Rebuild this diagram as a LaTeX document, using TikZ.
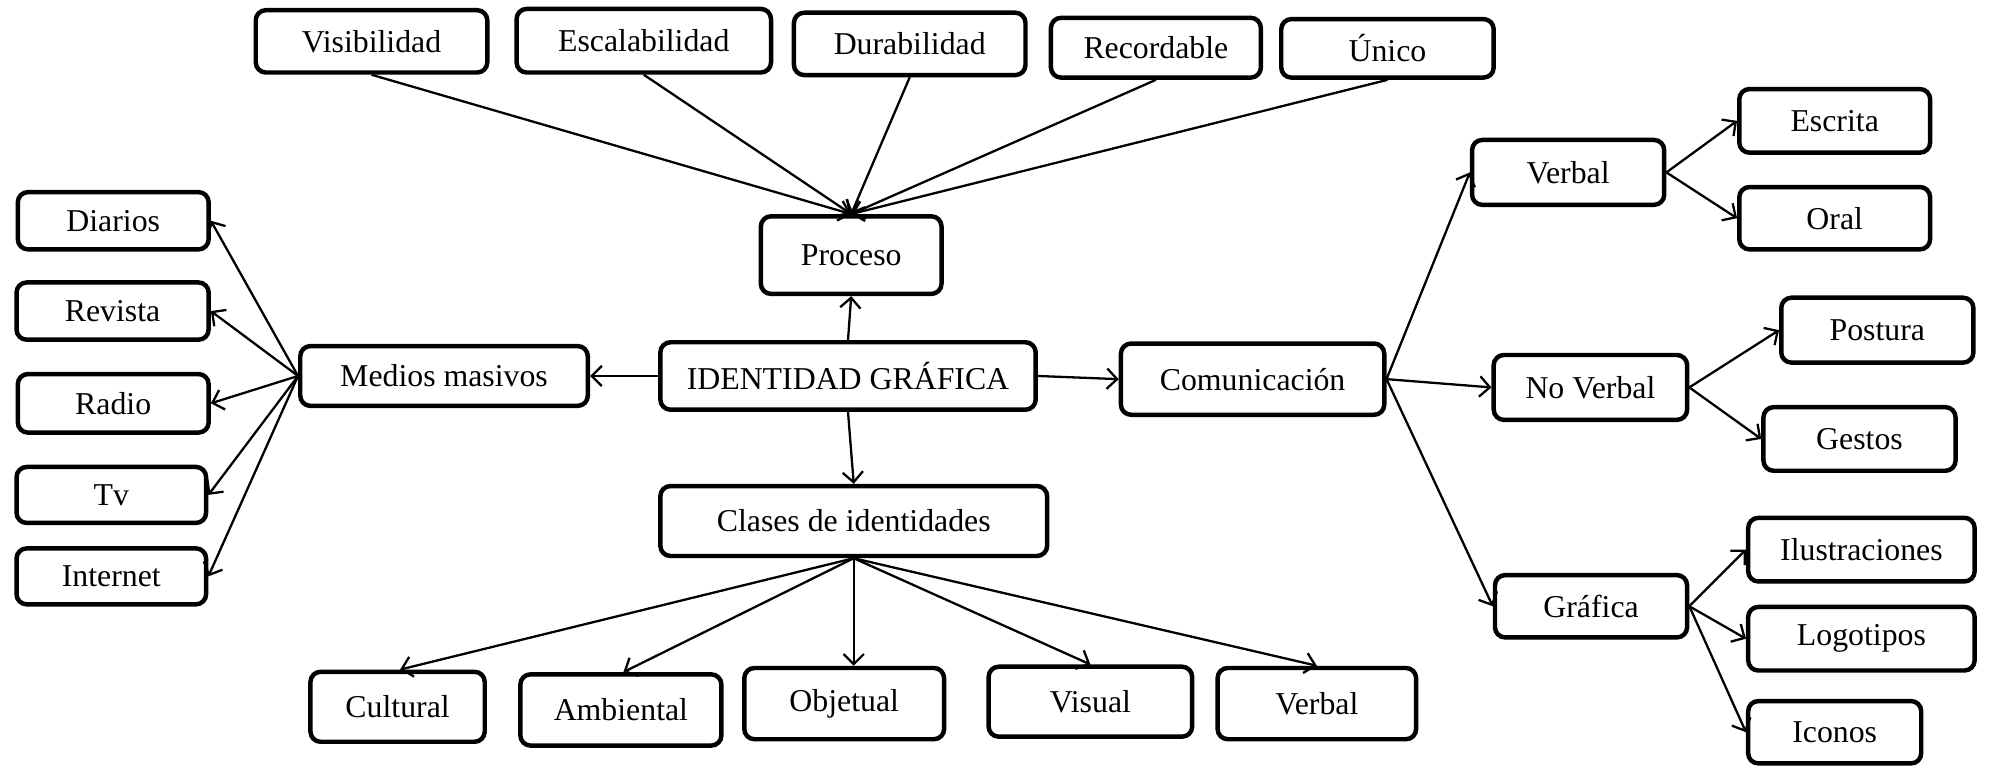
\documentclass[tikz,border=0pt]{standalone}
\usepackage{fontspec}
\setmainfont{Liberation Serif}
\usetikzlibrary{arrows.meta}
\tikzset{
  box/.style={draw, line width=3.5pt, rounded corners=8pt, inner sep=0pt, font=\fontsize{25}{30}\selectfont},
  con/.style={line width=1.8pt, -{Straight Barb[length=8pt,width=16pt,line width=1.8pt]}}
}
\newcommand{\bx}[6]{\node[box, minimum width=#4pt, minimum height=#5pt] (#1) at (#2,#3) {#6};}
\begin{document}
\begin{tikzpicture}[x=1pt,y=-1pt]
\path[use as bounding box] (0,0) rectangle (1568,602);
% top row
\bx{vis}{292}{32.5}{182}{49}{Visibilidad}
\bx{esc}{506}{32}{200}{50}{Escalabilidad}
\bx{dur}{715}{34.5}{182}{49}{Durabilidad}
\bx{rec}{908.5}{37.5}{165}{47}{Recordable}
\bx{uni}{1090.5}{38}{167}{46}{Único}
% center
\bx{proc}{669}{200.5}{142}{61}{Proceso}
\bx{id}{666.5}{295.5}{295}{53}{IDENTIDAD GRÁFICA}
\bx{med}{349}{295.5}{226}{47}{Medios masivos}
\bx{com}{984.5}{298}{207}{56}{Comunicación}
\bx{cla}{671}{409.5}{304}{55}{Clases de identidades}
% left column
\bx{dia}{89}{173.5}{150}{45}{Diarios}
\bx{rev}{88.5}{244.5}{151}{45}{Revista}
\bx{rad}{89}{317}{150}{46}{Radio}
\bx{tv}{87.5}{389}{149}{44}{Tv}
\bx{int}{87.5}{453}{149}{44}{Internet}
% bottom row
\bx{cul}{312.5}{555.5}{137}{55}{Cultural}
\bx{amb}{488}{558}{158}{56}{Ambiental}
\bx{obj}{663.5}{553}{157}{56}{Objetual}
\bx{vis2}{857}{551.5}{160}{55}{Visual}
\bx{verb2}{1035}{553}{156}{56}{Verbal}
% right side
\bx{verb}{1232.5}{135.5}{151}{51}{Verbal}
\bx{escr}{1442}{95}{150}{50}{Escrita}
\bx{oral}{1442}{171.5}{150}{49}{Oral}
\bx{nov}{1250}{304.5}{152}{51}{No Verbal}
\bx{pos}{1475.5}{259.5}{151}{51}{Postura}
\bx{ges}{1461.5}{345}{151}{50}{Gestos}
\bx{gra}{1250.5}{476.5}{151}{49}{Gráfica}
\bx{ilu}{1463}{432}{178}{50}{Ilustraciones}
\bx{logo}{1463}{502}{178}{50}{Logotipos}
\bx{ico}{1442}{575.5}{136}{49}{Iconos}
% connectors: top
\foreach \n in {vis,esc,dur,rec,uni}{\draw[con] (\n.south) -- (proc.north);}
\draw[con] (id.north) -- (proc.south);
\draw[con] (id.west) -- (med.east);
\draw[con] (id.east) -- (com.west);
\draw[con] (id.south) -- (cla.north);
% left
\foreach \n in {dia,rev,rad,tv,int}{\draw[con] (med.west) -- (\n.east);}
% bottom
\draw[con] (cla.south) -- ([xshift=2pt]cul.north);
\draw[con] (cla.south) -- ([xshift=2pt]amb.north);
\draw[con] (cla.south) -- (cla.south |- obj.north);
\draw[con] (cla.south) -- (vis2.north);
\draw[con] (cla.south) -- (verb2.north);
% right
\foreach \n in {verb,nov,gra}{\draw[con] (com.east) -- (\n.west);}
\foreach \n in {escr,oral}{\draw[con] (verb.east) -- (\n.west);}
\foreach \n in {pos,ges}{\draw[con] (nov.east) -- (\n.west);}
\foreach \n in {ilu,logo,ico}{\draw[con] (gra.east) -- (\n.west);}
\end{tikzpicture}
\end{document}
